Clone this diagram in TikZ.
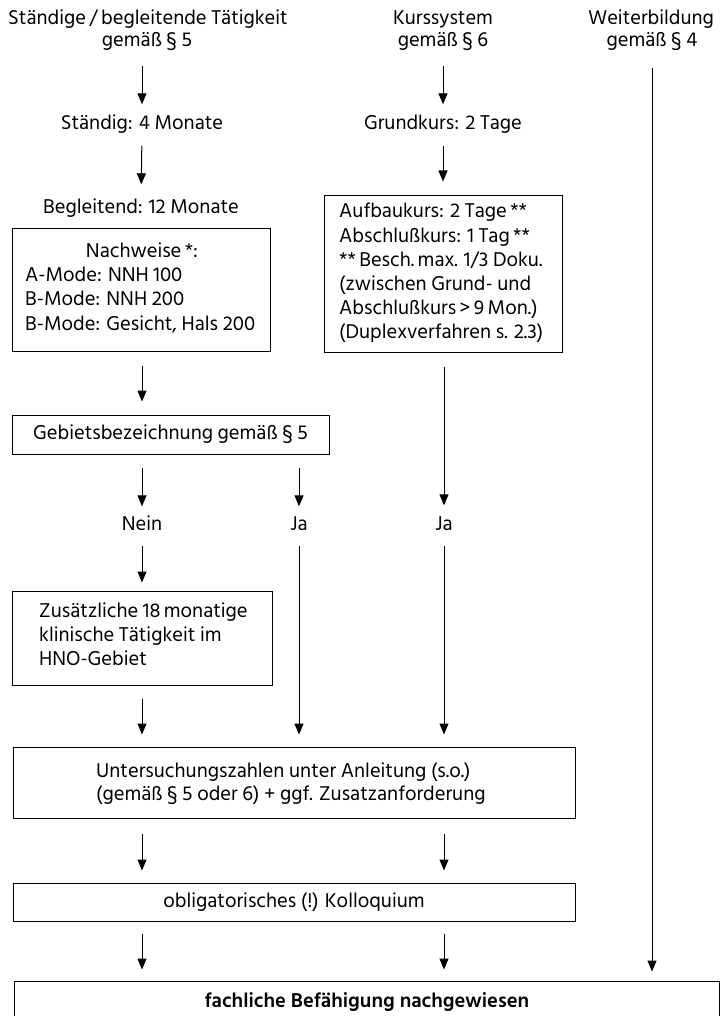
\documentclass[tikz,border=0pt]{standalone}
\usepackage{fontspec}
\setmainfont{Hind Siliguri}
\usetikzlibrary{arrows.meta}
\begin{document}
\begin{tikzpicture}[x=1pt,y=-1pt,
  font=\fontsize{20.5}{24.5}\selectfont,
  lab/.style={inner sep=0pt, text height=13pt, text depth=5pt, align=center},
  ll/.style={inner sep=0pt, anchor=base west},
  box/.style={draw, line width=1pt, inner sep=0pt},
  arr/.style={-{Triangle[length=11pt,width=9pt]}, line width=1pt}]
\useasboundingbox (0,0) rectangle (721,1016);
% headers (node centre = visual centre + 2.5)
\node[lab] (h1a) at (148,20.5) {Ständige\,/\,begleitende Tätigkeit};
\node[lab] (h1b) at (147,42.5) {gemäß § 5};
\node[lab] (h2a) at (443,20.5) {Kurssystem};
\node[lab] (h2b) at (443,42.5) {gemäß § 6};
\node[lab] (h3a) at (651,20.5) {Weiterbildung};
\node[lab] (h3b) at (652,42.5) {gemäß § 4};
% left column
\node[lab] (s1) at (142,125.5) {Ständig: 4 Monate};
\node[lab] (b1) at (141,209.5) {Begleitend: 12 Monate};
\node[box, minimum width=258pt, minimum height=122pt] (nach) at (141,290) {};
\node[inner sep=0pt, anchor=base] (nachT) at (142,257) {Nachweise\,*:};
\node[ll] (nach1) at (25,281) {A-Mode: NNH 100};
\node[ll] (nach2) at (25,305.5) {B-Mode: NNH 200};
\node[ll] (nach3) at (25,330) {B-Mode: Gesicht, Hals 200};
\node[box, minimum width=317pt, minimum height=39pt] (geb) at (170.5,434.5) {Gebietsbezeichnung gemäß § 5};
\node[lab] (nein) at (142,526.5) {Nein};
\node[lab] (ja1) at (299,526.5) {Ja};
\node[box, minimum width=260pt, minimum height=94pt] (zus) at (142,638) {};
\node[ll] (zus1) at (39,617) {Zusätzliche 18\,monatige};
\node[ll] (zus2) at (39,641) {klinische Tätigkeit im};
\node[ll] (zus3) at (39,665) {HNO-Gebiet};
% middle column
\node[lab] (g2) at (443,125.5) {Grundkurs: 2 Tage};
\node[box, minimum width=238pt, minimum height=156pt] (aufb) at (443,274) {};
\node[ll] (au1) at (339,218) {Aufbaukurs: 2 Tage\,**};
\node[ll] (au2) at (339,242.5) {Abschlußkurs: 1 Tag\,**};
\node[ll] (au3) at (339,266.5) {**\,Besch.\,max. 1/3 Doku.};
\node[ll] (au4) at (339,290.5) {(zwischen Grund- und};
\node[ll] (au5) at (339,314.5) {Abschlußkurs\,>\,9\,Mon.)};
\node[ll] (au6) at (339,338.5) {(Duplexverfahren s. 2.3)};
\node[lab] (ja2) at (444,526.5) {Ja};
% bottom
\node[box, minimum width=562pt, minimum height=71pt] (unt) at (294,782.5) {};
\node[ll] (unt1) at (96,777) {Untersuchungszahlen unter Anleitung (s.o.)};
\node[ll] (unt2) at (96,800) {(gemäß § 5 oder 6) + ggf. Zusatzanforderung};
\node[box, minimum width=562pt, minimum height=38pt] (kol) at (294,902) {obligatorisches (!) Kolloquium};
\node[box, minimum width=705pt, minimum height=49pt] (fin) at (366.5,1005.5) {};
\node[inner sep=0pt, anchor=base] (finT) at (367,1007) {\bfseries fachliche Befähigung nachgewiesen};
% arrows
\draw[arr, shorten <=14pt, shorten >=12pt] (h1b.south -| s1.north) -- (s1.north);
\draw[arr, shorten <=11pt, shorten >=16pt] (s1.south) -- (b1.north);
\draw[arr, shorten <=14pt, shorten >=12pt] (h2b.south -| g2.north) -- (g2.north);
\draw[arr, shorten <=11pt, shorten >=14pt] (g2.south) -- (g2.south |- aufb.north);
\draw[arr, shorten <=14pt, shorten >=13pt] (nach.south -| s1.south) -- (geb.north -| s1.south);
\draw[arr, shorten <=13pt, shorten >=11pt] (geb.south -| nein.north) -- (nein.north);
\draw[arr, shorten <=13pt, shorten >=11pt] (geb.south -| ja1.north) -- (ja1.north);
\draw[arr, shorten <=14pt, shorten >=12pt] (aufb.south -| ja2.north) -- (ja2.north);
\draw[arr, shorten <=10pt, shorten >=8pt] (nein.south) -- (nein.south |- zus.north);
\draw[arr, shorten <=10pt, shorten >=12pt] (ja1.south) -- (ja1.south |- unt.north);
\draw[arr, shorten <=10pt, shorten >=12pt] (ja2.south) -- (ja2.south |- unt.north);
\draw[arr, shorten <=13pt, shorten >=12pt] (zus.south) -- (zus.south |- unt.north);
\draw[arr, shorten <=15pt, shorten >=12pt] (unt.south -| zus.south) -- (kol.north -| zus.south);
\draw[arr, shorten <=15pt, shorten >=12pt] (unt.south -| ja2.south) -- (kol.north -| ja2.south);
\draw[arr, shorten <=12pt, shorten >=11pt] (kol.south -| zus.south) -- (fin.north -| zus.south);
\draw[arr, shorten <=12pt, shorten >=11pt] (kol.south -| ja2.south) -- (fin.north -| ja2.south);
\draw[arr, shorten <=16pt, shorten >=9pt] (h3b.south) -- (fin.north -| h3b.south);
\end{tikzpicture}
\end{document}
